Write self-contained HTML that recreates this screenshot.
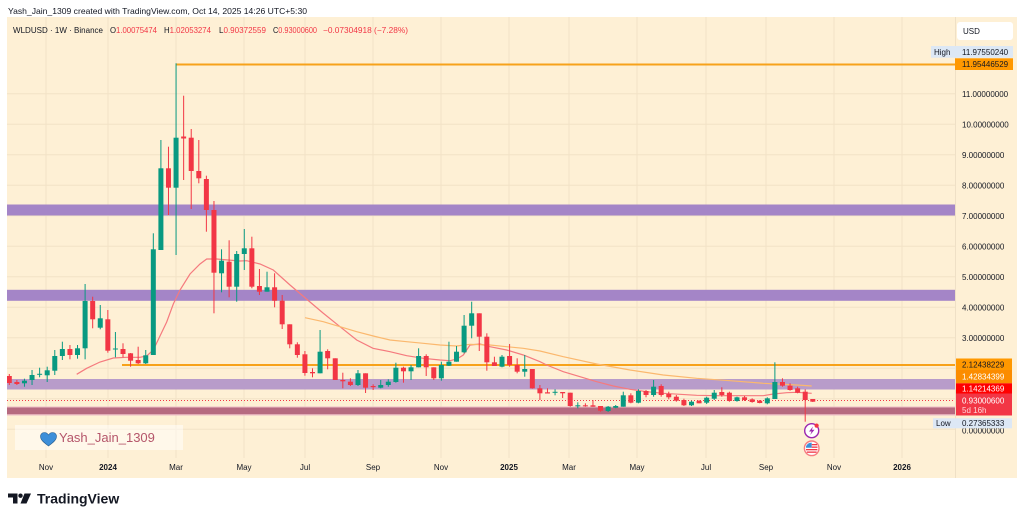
<!DOCTYPE html>
<html><head><meta charset="utf-8"><style>
html,body{margin:0;padding:0;background:#fff;}
svg{display:block;font-family:"Liberation Sans",sans-serif;}
</style></head><body>
<svg width="1024" height="521" viewBox="0 0 1024 521" xmlns="http://www.w3.org/2000/svg">
<defs><clipPath id="c"><rect x="7" y="17" width="948" height="441"/></clipPath></defs>
<rect x="0" y="0" width="1024" height="521" fill="#fff"/>
<text x="8" y="14" font-size="8.3" fill="#131722" textLength="299" lengthAdjust="spacingAndGlyphs">Yash_Jain_1309 created with TradingView.com, Oct 14, 2025 14:26 UTC+5:30</text>
<rect x="7" y="17" width="1010" height="461" fill="#fef0d5"/>
<!-- grid -->
<g stroke="#f2e2c6" stroke-width="1">
<line x1="7" x2="955" y1="93.8" y2="93.8"/><line x1="7" x2="955" y1="124.3" y2="124.3"/><line x1="7" x2="955" y1="154.8" y2="154.8"/><line x1="7" x2="955" y1="185.3" y2="185.3"/><line x1="7" x2="955" y1="215.8" y2="215.8"/><line x1="7" x2="955" y1="246.3" y2="246.3"/><line x1="7" x2="955" y1="276.8" y2="276.8"/><line x1="7" x2="955" y1="307.3" y2="307.3"/><line x1="7" x2="955" y1="337.8" y2="337.8"/><line x1="7" x2="955" y1="368.3" y2="368.3"/><line x1="7" x2="955" y1="398.8" y2="398.8"/><line x1="7" x2="955" y1="429.3" y2="429.3"/>
<line x1="46" x2="46" y1="17" y2="458"/><line x1="108" x2="108" y1="17" y2="458"/><line x1="176" x2="176" y1="17" y2="458"/><line x1="244" x2="244" y1="17" y2="458"/><line x1="305" x2="305" y1="17" y2="458"/><line x1="373" x2="373" y1="17" y2="458"/><line x1="441" x2="441" y1="17" y2="458"/><line x1="509" x2="509" y1="17" y2="458"/><line x1="569" x2="569" y1="17" y2="458"/><line x1="637" x2="637" y1="17" y2="458"/><line x1="706" x2="706" y1="17" y2="458"/><line x1="766" x2="766" y1="17" y2="458"/><line x1="834" x2="834" y1="17" y2="458"/><line x1="902" x2="902" y1="17" y2="458"/>
</g>
<line x1="955.5" x2="955.5" y1="17" y2="478" stroke="#efe0c6" stroke-width="1"/>
<!-- header line 2 -->
<g font-size="8" fill="#131722">
<text x="13" y="33" textLength="90" lengthAdjust="spacingAndGlyphs">WLDUSD · 1W · Binance</text>
<text x="110" y="33" textLength="47" lengthAdjust="spacingAndGlyphs">O<tspan fill="#f23645">1.00075474</tspan></text>
<text x="164" y="33" textLength="47" lengthAdjust="spacingAndGlyphs">H<tspan fill="#f23645">1.02053274</tspan></text>
<text x="219" y="33" textLength="47" lengthAdjust="spacingAndGlyphs">L<tspan fill="#f23645">0.90372559</tspan></text>
<text x="273" y="33" textLength="44" lengthAdjust="spacingAndGlyphs">C<tspan fill="#f23645">0.93000600</tspan></text>
<text x="323" y="33" fill="#f23645" textLength="85" lengthAdjust="spacingAndGlyphs">−0.07304918 (−7.28%)</text>
</g>
<!-- bands -->
<g clip-path="url(#c)">
<rect x="7" y="204.5" width="948" height="11" fill="#a485c7"/>
<rect x="7" y="289.8" width="948" height="11" fill="#a485c7"/>
<rect x="7" y="379" width="948" height="10.5" fill="#b89cca"/>
<rect x="7" y="406.5" width="948" height="9" fill="#ecbcc5"/>
<rect x="7" y="407.5" width="948" height="6.7" fill="#b66a80"/>
<line x1="176" x2="955" y1="64.5" y2="64.5" stroke="#f7a21b" stroke-width="2"/>
<line x1="122" x2="955" y1="365" y2="365" stroke="#f7a21b" stroke-width="2"/>
<line x1="7" x2="955" y1="400.5" y2="400.5" stroke="#f23645" stroke-width="1" stroke-dasharray="1,2"/>
<!-- MAs -->
<polyline fill="none" stroke="#f57a7e" stroke-width="1.2" points="76.7,374.3 86.7,368.3 100,362 113.3,358 126.7,357.3 140,357.3 146.7,356 153.3,350 160,336 166.7,322 173.3,304 180,290 190,274 200,264 206.7,259 216.7,259 228,260 240,261 246.7,260.7 260,264 273.3,270 290,285 310,302 323,313 340,326.7 356.7,340 373,348.3 390,351.7 406.7,355.7 423.3,358.3 440,360 450,360.7 457,359 463.3,355 470,345 480,344 490,346.7 506.7,350 523.3,355 540,361.7 546.7,365 563.3,371.7 580,376.7 596.7,381.7 613.3,386 630,389.3 646.7,391.7 663.3,393.3 680,394.3 696.7,395.3 716.7,395.7 746.7,395.7 763.3,395.7 773.3,394 786.7,392.7 796.7,392.3 811.7,393.3"/>
<polyline fill="none" stroke="#fbb86e" stroke-width="1.2" points="305,317.7 323.3,321.7 340,326.7 356.7,331.7 373.3,336 390,340 406.7,341.7 423.3,343.3 440,345 456.7,346 470,344.3 490,345 506.7,346.7 523.3,348.3 540,351 563.3,356.7 596.7,364 630,370 663.3,375 696.7,378.3 730,380.7 763.3,383.3 796.7,385 811.7,386"/>
<!-- green candles -->
<g fill="#089981">
<rect x="23.96" y="378.7" width="1" height="8"/><rect x="21.96" y="380.7" width="5" height="2.6"/>
<rect x="31.54" y="370" width="1" height="15"/><rect x="29.54" y="375" width="5" height="5"/>
<rect x="39.12" y="367.7" width="1" height="9.6"/><rect x="37.12" y="373.8" width="5" height="1"/>
<rect x="46.7" y="366.7" width="1" height="15.3"/><rect x="44.7" y="370.3" width="5" height="5"/>
<rect x="54.28" y="350" width="1" height="25"/><rect x="52.28" y="356" width="5" height="14.7"/>
<rect x="61.86" y="341.7" width="1" height="18.3"/><rect x="59.86" y="349" width="5" height="7"/>
<rect x="77.02" y="345" width="1" height="13.7"/><rect x="75.02" y="348.3" width="5" height="6.7"/>
<rect x="84.6" y="284" width="1" height="75.3"/><rect x="82.6" y="301" width="5" height="47.3"/>
<rect x="99.76" y="305" width="1" height="24.3"/><rect x="97.76" y="318.3" width="5" height="9.4"/>
<rect x="114.92" y="332" width="1" height="25.3"/><rect x="112.92" y="348.5" width="5" height="1"/>
<rect x="145.24" y="350" width="1" height="14"/><rect x="143.24" y="355.3" width="5" height="8"/>
<rect x="152.82" y="233.3" width="1" height="121.7"/><rect x="150.82" y="249.3" width="5" height="105.7"/>
<rect x="160.4" y="140" width="1" height="110"/><rect x="158.4" y="168.3" width="5" height="81.7"/>
<rect x="175.56" y="63.3" width="1" height="191.7"/><rect x="173.56" y="137.7" width="5" height="50"/>
<rect x="221.04" y="249.3" width="1" height="43"/><rect x="219.04" y="260.7" width="5" height="12.6"/>
<rect x="236.2" y="251" width="1" height="50.7"/><rect x="234.2" y="254" width="5" height="32.7"/>
<rect x="243.78" y="229" width="1" height="41"/><rect x="241.78" y="248.3" width="5" height="5.7"/>
<rect x="266.52" y="271.7" width="1" height="20"/><rect x="264.52" y="287.3" width="5" height="4.4"/>
<rect x="319.58" y="330" width="1" height="43.3"/><rect x="317.58" y="351.7" width="5" height="21.6"/>
<rect x="357.48" y="370" width="1" height="16"/><rect x="355.48" y="373.3" width="5" height="11.7"/>
<rect x="380.22" y="380" width="1" height="8.3"/><rect x="378.22" y="385" width="5" height="2.7"/>
<rect x="387.8" y="379.3" width="1" height="7.4"/><rect x="385.8" y="381.7" width="5" height="3.3"/>
<rect x="395.38" y="362.7" width="1" height="20"/><rect x="393.38" y="367.7" width="5" height="14.3"/>
<rect x="410.54" y="365" width="1" height="15"/><rect x="408.54" y="367.3" width="5" height="4"/>
<rect x="418.12" y="348.3" width="1" height="19"/><rect x="416.12" y="356" width="5" height="11.3"/>
<rect x="440.86" y="361.7" width="1" height="19"/><rect x="438.86" y="365" width="5" height="13.3"/>
<rect x="448.44" y="341.7" width="1" height="24.3"/><rect x="446.44" y="361.7" width="5" height="4"/>
<rect x="456.02" y="346" width="1" height="15.7"/><rect x="454.02" y="351.7" width="5" height="10"/>
<rect x="463.6" y="315" width="1" height="38.3"/><rect x="461.6" y="325.7" width="5" height="26.6"/>
<rect x="471.18" y="301.7" width="1" height="36.6"/><rect x="469.18" y="313.3" width="5" height="12.4"/>
<rect x="501.5" y="355" width="1" height="12.3"/><rect x="499.5" y="356.7" width="5" height="10"/>
<rect x="524.24" y="355" width="1" height="21.7"/><rect x="522.24" y="369" width="5" height="2.7"/>
<rect x="554.56" y="389.3" width="1" height="6"/><rect x="552.56" y="391.8" width="5" height="1"/>
<rect x="577.3" y="402.3" width="1" height="6"/><rect x="575.3" y="405.3" width="5" height="1"/>
<rect x="607.62" y="406" width="1" height="6"/><rect x="605.62" y="406.7" width="5" height="4.3"/>
<rect x="615.2" y="405" width="1" height="3.3"/><rect x="613.2" y="406" width="5" height="1.7"/>
<rect x="622.78" y="391.7" width="1" height="15"/><rect x="620.78" y="395.3" width="5" height="11.4"/>
<rect x="637.94" y="389.3" width="1" height="14"/><rect x="635.94" y="391" width="5" height="11.7"/>
<rect x="653.1" y="380" width="1" height="16.7"/><rect x="651.1" y="386.7" width="5" height="8.3"/>
<rect x="691" y="400.7" width="1" height="5.3"/><rect x="689" y="401.7" width="5" height="3.6"/>
<rect x="706.16" y="396.7" width="1" height="7.3"/><rect x="704.16" y="397.7" width="5" height="5"/>
<rect x="713.74" y="390" width="1" height="10"/><rect x="711.74" y="392.7" width="5" height="6"/>
<rect x="736.48" y="396.7" width="1" height="5"/><rect x="734.48" y="397.3" width="5" height="3.7"/>
<rect x="766.8" y="397.3" width="1" height="7"/><rect x="764.8" y="398.3" width="5" height="5"/>
<rect x="774.38" y="362.3" width="1" height="36.7"/><rect x="772.38" y="382" width="5" height="17"/>
</g>
<!-- red candles -->
<g fill="#f23645">
<rect x="8.8" y="374" width="1" height="11"/><rect x="6.8" y="376" width="5" height="7"/>
<rect x="16.38" y="380" width="1" height="5"/><rect x="14.38" y="382" width="5" height="2"/>
<rect x="69.44" y="345" width="1" height="14.3"/><rect x="67.44" y="349" width="5" height="6"/>
<rect x="92.18" y="296.7" width="1" height="31.6"/><rect x="90.18" y="301" width="5" height="18.3"/>
<rect x="107.34" y="310" width="1" height="42.7"/><rect x="105.34" y="319.3" width="5" height="31.4"/>
<rect x="122.5" y="343.3" width="1" height="14"/><rect x="120.5" y="349" width="5" height="5"/>
<rect x="130.08" y="353" width="1" height="13.7"/><rect x="128.08" y="353.3" width="5" height="7.4"/>
<rect x="137.66" y="346.7" width="1" height="17.3"/><rect x="135.66" y="360" width="5" height="3.3"/>
<rect x="167.98" y="146.7" width="1" height="68.3"/><rect x="165.98" y="168.3" width="5" height="19.4"/>
<rect x="183.14" y="95.7" width="1" height="84.3"/><rect x="181.14" y="136.5" width="5" height="2"/>
<rect x="190.72" y="129" width="1" height="80"/><rect x="188.72" y="137.7" width="5" height="33.3"/>
<rect x="198.3" y="140" width="1" height="43.3"/><rect x="196.3" y="171" width="5" height="7.3"/>
<rect x="205.88" y="175.7" width="1" height="56"/><rect x="203.88" y="179" width="5" height="31"/>
<rect x="213.46" y="201" width="1" height="112.3"/><rect x="211.46" y="210" width="5" height="62.7"/>
<rect x="228.62" y="240.3" width="1" height="57"/><rect x="226.62" y="261.7" width="5" height="25"/>
<rect x="251.36" y="236.7" width="1" height="51.6"/><rect x="249.36" y="248.3" width="5" height="38.4"/>
<rect x="258.94" y="269" width="1" height="26"/><rect x="256.94" y="286" width="5" height="5.7"/>
<rect x="274.1" y="273.3" width="1" height="34"/><rect x="272.1" y="287.3" width="5" height="13.4"/>
<rect x="281.68" y="295" width="1" height="34"/><rect x="279.68" y="300.7" width="5" height="23.6"/>
<rect x="289.26" y="324.3" width="1" height="24"/><rect x="287.26" y="324.3" width="5" height="20"/>
<rect x="296.84" y="342.3" width="1" height="15.4"/><rect x="294.84" y="344.3" width="5" height="10.7"/>
<rect x="304.42" y="351" width="1" height="24.7"/><rect x="302.42" y="354.3" width="5" height="18.7"/>
<rect x="312" y="368.3" width="1" height="9"/><rect x="310" y="372" width="5" height="1.3"/>
<rect x="327.16" y="349.3" width="1" height="20"/><rect x="325.16" y="351" width="5" height="7.3"/>
<rect x="334.74" y="358.3" width="1" height="21.7"/><rect x="332.74" y="358.3" width="5" height="21.7"/>
<rect x="342.32" y="372.7" width="1" height="15.6"/><rect x="340.32" y="380" width="5" height="1.3"/>
<rect x="349.9" y="378.3" width="1" height="7.7"/><rect x="347.9" y="381.7" width="5" height="3.3"/>
<rect x="365.06" y="373.3" width="1" height="19.7"/><rect x="363.06" y="373.3" width="5" height="14.4"/>
<rect x="372.64" y="384.3" width="1" height="5.7"/><rect x="370.64" y="386" width="5" height="1.2"/>
<rect x="402.96" y="366.7" width="1" height="16"/><rect x="400.96" y="367.7" width="5" height="3.6"/>
<rect x="425.7" y="354.3" width="1" height="21.7"/><rect x="423.7" y="356" width="5" height="11.3"/>
<rect x="433.28" y="367.3" width="1" height="12.7"/><rect x="431.28" y="367.3" width="5" height="11"/>
<rect x="478.76" y="313.3" width="1" height="37.7"/><rect x="476.76" y="313.3" width="5" height="23.4"/>
<rect x="486.34" y="333.3" width="1" height="37.4"/><rect x="484.34" y="336.7" width="5" height="25.6"/>
<rect x="493.92" y="356.7" width="1" height="9.3"/><rect x="491.92" y="362.3" width="5" height="3.7"/>
<rect x="509.08" y="344" width="1" height="22.7"/><rect x="507.08" y="356" width="5" height="9"/>
<rect x="516.66" y="358.3" width="1" height="15"/><rect x="514.66" y="365" width="5" height="6.7"/>
<rect x="531.82" y="369" width="1" height="19.7"/><rect x="529.82" y="369" width="5" height="19.3"/>
<rect x="539.4" y="385" width="1" height="15"/><rect x="537.4" y="388.3" width="5" height="5"/>
<rect x="546.98" y="388.3" width="1" height="5.2"/><rect x="544.98" y="392.3" width="5" height="1.2"/>
<rect x="562.14" y="392" width="1" height="6"/><rect x="560.14" y="392" width="5" height="1.3"/>
<rect x="569.72" y="392.7" width="1" height="14"/><rect x="567.72" y="392.7" width="5" height="13.3"/>
<rect x="584.88" y="403.3" width="1" height="3.4"/><rect x="582.88" y="405.3" width="5" height="1"/>
<rect x="592.46" y="400" width="1" height="6.7"/><rect x="590.46" y="405.3" width="5" height="1.4"/>
<rect x="600.04" y="406" width="1" height="5.7"/><rect x="598.04" y="406" width="5" height="4.7"/>
<rect x="630.36" y="393.3" width="1" height="10"/><rect x="628.36" y="395.3" width="5" height="7.4"/>
<rect x="645.52" y="390" width="1" height="7.3"/><rect x="643.52" y="391" width="5" height="4"/>
<rect x="660.68" y="384.3" width="1" height="12.4"/><rect x="658.68" y="386" width="5" height="9"/>
<rect x="668.26" y="391.7" width="1" height="7.6"/><rect x="666.26" y="394" width="5" height="3.3"/>
<rect x="675.84" y="395" width="1" height="6.7"/><rect x="673.84" y="396.7" width="5" height="4"/>
<rect x="683.42" y="398.7" width="1" height="7.3"/><rect x="681.42" y="400" width="5" height="5.3"/>
<rect x="698.58" y="400" width="1" height="3.3"/><rect x="696.58" y="401" width="5" height="2.3"/>
<rect x="721.32" y="387.3" width="1" height="9.4"/><rect x="719.32" y="392" width="5" height="3"/>
<rect x="728.9" y="391.7" width="1" height="10"/><rect x="726.9" y="392.7" width="5" height="8.3"/>
<rect x="744.06" y="396" width="1" height="5"/><rect x="742.06" y="397.3" width="5" height="2.7"/>
<rect x="751.64" y="398.3" width="1" height="4.4"/><rect x="749.64" y="399.3" width="5" height="2.7"/>
<rect x="759.22" y="400" width="1" height="3.3"/><rect x="757.22" y="400.7" width="5" height="2.3"/>
<rect x="781.96" y="378.3" width="1" height="8.4"/><rect x="779.96" y="382" width="5" height="3.7"/>
<rect x="789.54" y="383.3" width="1" height="7.4"/><rect x="787.54" y="385.7" width="5" height="4.3"/>
<rect x="797.12" y="386.7" width="1" height="6.6"/><rect x="795.12" y="388.3" width="5" height="4.4"/>
<rect x="804.7" y="389.3" width="1" height="32.4"/><rect x="802.7" y="391.7" width="5" height="8.3"/>
<rect x="812.28" y="399" width="1" height="3"/><rect x="810.28" y="399" width="5" height="2.7"/>
</g>
</g>
<!-- event icons -->
<circle cx="811.7" cy="430.7" r="7" fill="#fff" stroke="#9c27b0" stroke-width="1.4"/>
<path d="M813 426.5 L809 431.5 H811.6 L810.2 435 L814.5 429.8 H811.9 Z" fill="#9c27b0"/>
<circle cx="816.6" cy="425.6" r="2.1" fill="#f23645"/>
<circle cx="811.7" cy="448.3" r="7.3" fill="#fff" stroke="#f77c80" stroke-width="1.4"/>
<path d="M806 446.5 A5.7 5.7 0 0 1 811.7 442.6 V447.8 H806 Z" fill="#3d8fd9"/>
<rect x="811.7" y="444" width="5.3" height="1.3" fill="#f23645"/>
<rect x="811.7" y="446.5" width="5.8" height="1.3" fill="#f23645"/>
<rect x="806" y="449" width="11.4" height="1.3" fill="#f23645"/>
<rect x="806.8" y="451.5" width="9.8" height="1.3" fill="#f23645"/>
<!-- watermark -->
<rect x="15" y="425" width="168" height="25" fill="#ffffff" fill-opacity="0.5"/>
<path d="M48.5 446 C44 442.5 40.5 440 40.5 436.5 C40.5 434 42.3 432.5 44.3 432.5 C46 432.5 47.6 433.5 48.5 435 C49.4 433.5 51 432.5 52.7 432.5 C54.7 432.5 56.5 434 56.5 436.5 C56.5 440 53 442.5 48.5 446 Z" fill="#3d8fd9" stroke="#2a5f8f" stroke-width="0.6"/>
<text x="59" y="442" font-size="13" fill="#b5566b">Yash_Jain_1309</text>
<!-- time axis -->
<g font-size="8" fill="#131722" text-anchor="middle">
<text x="46" y="470">Nov</text><text x="108" y="470" font-weight="bold">2024</text><text x="176" y="470">Mar</text><text x="244" y="470">May</text><text x="305" y="470">Jul</text><text x="373" y="470">Sep</text><text x="441" y="470">Nov</text><text x="509" y="470" font-weight="bold">2025</text><text x="569" y="470">Mar</text><text x="637" y="470">May</text><text x="706" y="470">Jul</text><text x="766" y="470">Sep</text><text x="834" y="470">Nov</text><text x="902" y="470" font-weight="bold">2026</text>
</g>
<!-- price axis -->
<g font-size="8" fill="#131722">
<text x="962" y="96.8">11.00000000</text><text x="962" y="127.3">10.00000000</text><text x="962" y="157.8">9.00000000</text><text x="962" y="188.3">8.00000000</text><text x="962" y="218.8">7.00000000</text><text x="962" y="249.3">6.00000000</text><text x="962" y="279.8">5.00000000</text><text x="962" y="310.3">4.00000000</text><text x="962" y="340.8">3.00000000</text><text x="962" y="371.3">2.00000000</text><text x="962" y="401.8">1.00000000</text><text x="962" y="433.5">0.00000000</text>
</g>
<rect x="957" y="22" width="56" height="18" rx="3" fill="#fff"/>
<text x="963" y="34" font-size="8" fill="#131722">USD</text>
<rect x="931" y="46" width="24" height="11.7" fill="#dde8f5"/>
<text x="934" y="54.8" font-size="8" fill="#131722">High</text>
<rect x="955" y="46" width="58" height="11.7" fill="#dde8f5"/>
<text x="962" y="54.8" font-size="8" fill="#131722">11.97550240</text>
<rect x="955" y="58.3" width="58" height="11.7" fill="#ff9800"/>
<text x="962" y="67.2" font-size="8" fill="#131722">11.95446529</text>
<rect x="956" y="358.5" width="56" height="11.5" fill="#ff9800"/>
<text x="962" y="367.3" font-size="8" fill="#131722">2.12438229</text>
<rect x="956" y="370" width="56" height="13.3" fill="#fb8c00"/>
<text x="962" y="379.7" font-size="8" fill="#fff">1.42834399</text>
<rect x="956" y="383.3" width="56" height="10.2" fill="#ff0000"/>
<text x="962" y="391.5" font-size="8" fill="#fff">1.14214369</text>
<rect x="956" y="393.5" width="56" height="22" fill="#f23645"/>
<text x="962" y="403.5" font-size="8" fill="#fff">0.93000600</text>
<text x="962" y="413" font-size="8" fill="#ffd6da">5d 16h</text>
<rect x="933" y="418.3" width="22" height="10" fill="#dde8f5"/>
<text x="936" y="426.2" font-size="8" fill="#131722">Low</text>
<rect x="955" y="418.3" width="57" height="10" fill="#dde8f5"/>
<text x="962" y="426.2" font-size="8" fill="#131722">0.27365333</text>
<!-- TradingView logo -->
<g fill="#131722">
<path d="M8 493.5 H17.5 V503.5 H13 V497.5 H8 Z"/>
<circle cx="20.5" cy="495.7" r="2.2"/>
<path d="M24.5 493.5 H31 L26.5 503.5 H20.5 Z"/>
</g>
<text x="37" y="503.5" font-size="14" font-weight="bold" fill="#131722">TradingView</text>
</svg>
</body></html>
